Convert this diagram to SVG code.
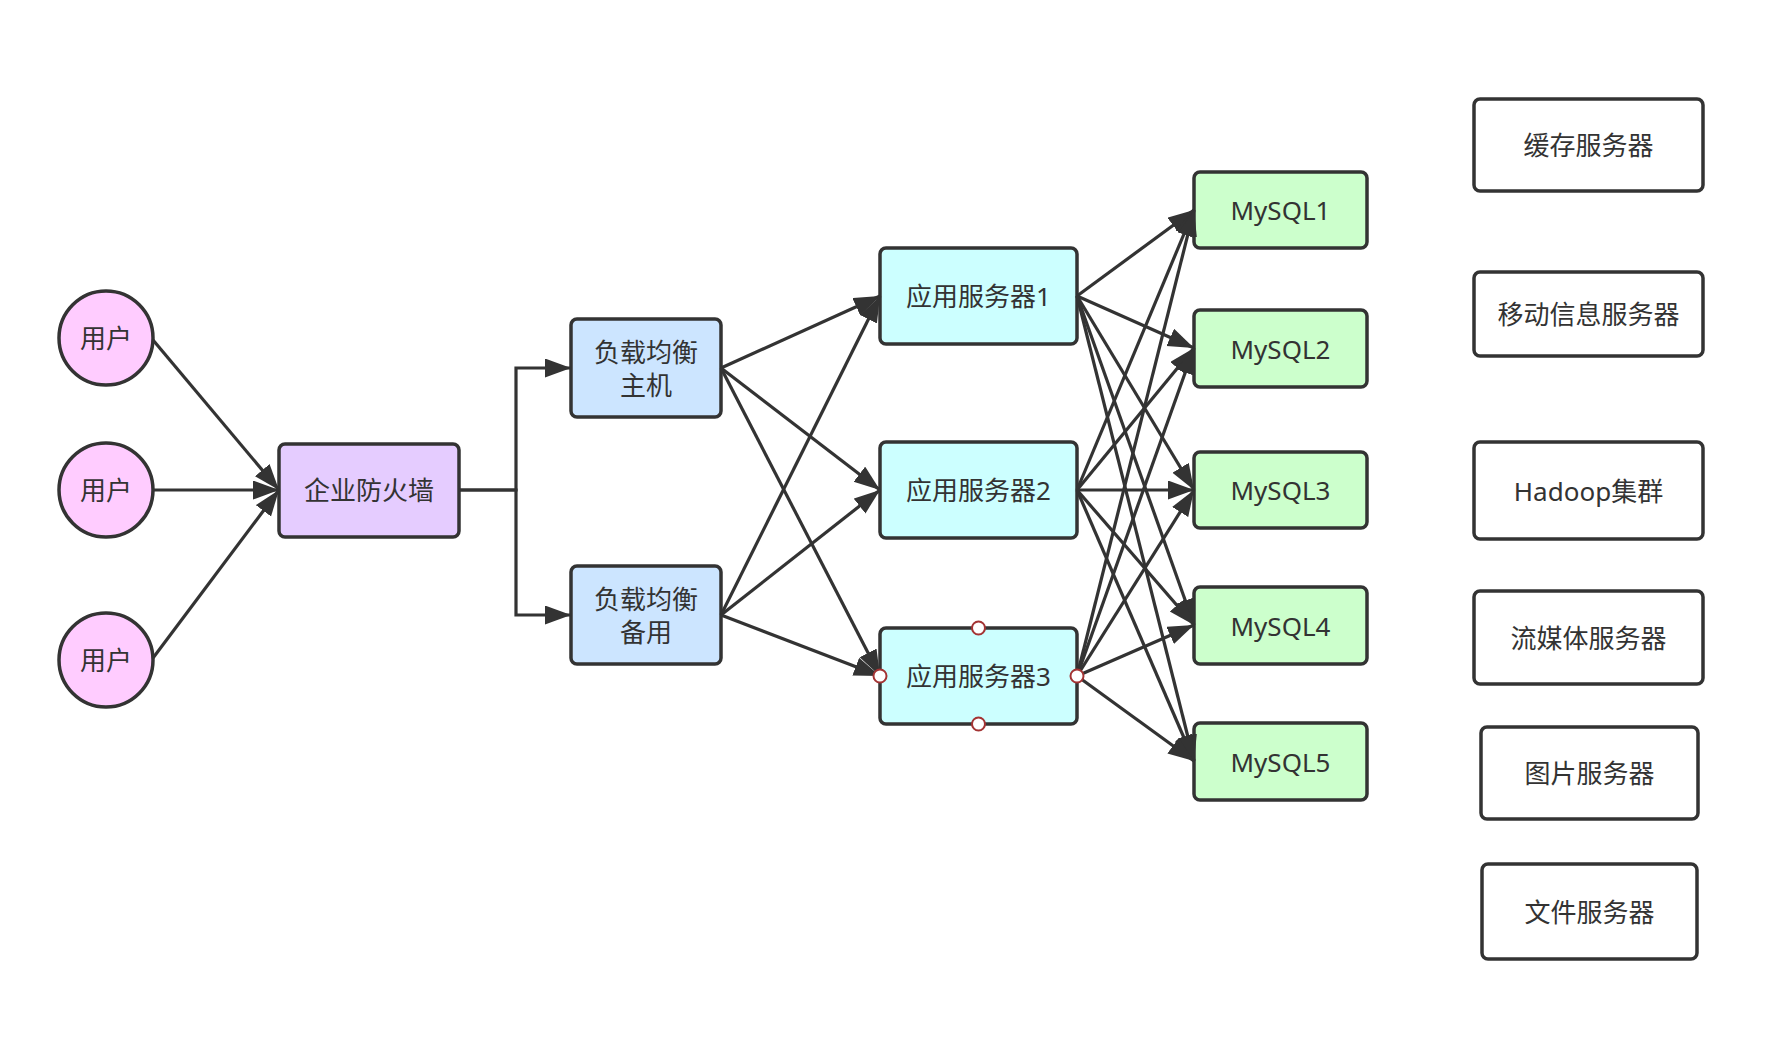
<svg xmlns="http://www.w3.org/2000/svg" width="1785" height="1040" viewBox="0 0 1785 1040">
<style>
  .n { stroke: #333333; stroke-width: 3.5; }
  .user { fill: #FFCCFF; }
  .fw { fill: #E5CCFF; }
  .lb { fill: #CCE5FF; }
  .as { fill: #CCFFFF; }
  .db { fill: #CCFFCC; }
  .plain { fill: #FFFFFF; }
  text { font-family: "Noto Sans", "Noto Sans CJK SC", sans-serif; font-size: 26px; fill: #333333; text-anchor: middle; dominant-baseline: central; }
  .e { fill: none; stroke: #333333; stroke-width: 3.2; marker-end: url(#arr); }
  .h { fill: #FFFFFF; stroke: #A33333; stroke-width: 2; }
</style>
<defs>
  <marker id="arr" markerUnits="userSpaceOnUse" markerWidth="28" markerHeight="20" refX="26" refY="9.5" orient="auto">
    <path d="M0,0 L26,9.5 L0,19 z" fill="#333333"/>
  </marker>
</defs>
<rect width="1785" height="1040" fill="#FFFFFF"/>

<g id="user1"><circle class="n user" cx="106" cy="338" r="47"/><text x="106" y="338">用户</text></g>
<g id="user2"><circle class="n user" cx="106" cy="490" r="47"/><text x="106" y="490">用户</text></g>
<g id="user3"><circle class="n user" cx="106" cy="660" r="47"/><text x="106" y="660">用户</text></g>

<g id="firewall"><rect class="n fw" x="279" y="444" width="180" height="93" rx="6"/><text x="369" y="490">企业防火墙</text></g>

<g id="lb1"><rect class="n lb" x="571" y="319" width="150" height="98" rx="6"/><text x="646" y="352">负载均衡</text><text x="646" y="385">主机</text></g>
<g id="lb2"><rect class="n lb" x="571" y="566" width="150" height="98" rx="6"/><text x="646" y="599">负载均衡</text><text x="646" y="632">备用</text></g>

<g id="as1"><rect class="n as" x="880" y="248" width="197" height="96" rx="6"/><text x="978.5" y="296">应用服务器1</text></g>
<g id="as2"><rect class="n as" x="880" y="442" width="197" height="96" rx="6"/><text x="978.5" y="490">应用服务器2</text></g>
<g id="as3"><rect class="n as" x="880" y="628" width="197" height="96" rx="6"/><text x="978.5" y="676">应用服务器3</text></g>

<g id="mysql1"><rect class="n db" x="1194" y="172" width="173" height="76" rx="6"/><text x="1280.5" y="210">MySQL1</text></g>
<g id="mysql2"><rect class="n db" x="1194" y="310" width="173" height="77" rx="6"/><text x="1280.5" y="348.5">MySQL2</text></g>
<g id="mysql3"><rect class="n db" x="1194" y="452" width="173" height="76" rx="6"/><text x="1280.5" y="490">MySQL3</text></g>
<g id="mysql4"><rect class="n db" x="1194" y="587" width="173" height="77" rx="6"/><text x="1280.5" y="625.5">MySQL4</text></g>
<g id="mysql5"><rect class="n db" x="1194" y="723" width="173" height="77" rx="6"/><text x="1280.5" y="761.5">MySQL5</text></g>

<g id="cache"><rect class="n plain" x="1474" y="99" width="229" height="92" rx="6"/><text x="1588.5" y="145">缓存服务器</text></g>
<g id="mobile"><rect class="n plain" x="1474" y="272" width="229" height="84" rx="6"/><text x="1588.5" y="314">移动信息服务器</text></g>
<g id="hadoop"><rect class="n plain" x="1474" y="442" width="229" height="97" rx="6"/><text x="1588.5" y="490.5">Hadoop集群</text></g>
<g id="stream"><rect class="n plain" x="1474" y="591" width="229" height="93" rx="6"/><text x="1588.5" y="637.5">流媒体服务器</text></g>
<g id="image"><rect class="n plain" x="1481" y="727" width="217" height="92" rx="6"/><text x="1589.5" y="773">图片服务器</text></g>
<g id="file"><rect class="n plain" x="1482" y="864" width="215" height="95" rx="6"/><text x="1589.5" y="911.5">文件服务器</text></g>

<g id="connectors">
  <line class="e" x1="153" y1="340" x2="279" y2="490"/>
  <line class="e" x1="153" y1="490" x2="279" y2="490"/>
  <line class="e" x1="153" y1="658" x2="279" y2="490"/>
  <path class="e" d="M459,490 H516 V368 H571"/>
  <path class="e" d="M459,490 H516 V615 H571"/>
  <line class="e" x1="721" y1="368" x2="880" y2="296"/>
  <line class="e" x1="721" y1="368" x2="880" y2="490"/>
  <line class="e" x1="721" y1="368" x2="880" y2="676"/>
  <line class="e" x1="721" y1="615" x2="880" y2="296"/>
  <line class="e" x1="721" y1="615" x2="880" y2="490"/>
  <line class="e" x1="721" y1="615" x2="880" y2="676"/>
  <line class="e" x1="1077" y1="296" x2="1194" y2="210"/>
  <line class="e" x1="1077" y1="296" x2="1194" y2="348"/>
  <line class="e" x1="1077" y1="296" x2="1194" y2="490"/>
  <line class="e" x1="1077" y1="296" x2="1194" y2="625"/>
  <line class="e" x1="1077" y1="296" x2="1194" y2="761"/>
  <line class="e" x1="1077" y1="490" x2="1194" y2="210"/>
  <line class="e" x1="1077" y1="490" x2="1194" y2="348"/>
  <line class="e" x1="1077" y1="490" x2="1194" y2="490"/>
  <line class="e" x1="1077" y1="490" x2="1194" y2="625"/>
  <line class="e" x1="1077" y1="490" x2="1194" y2="761"/>
  <line class="e" x1="1077" y1="676" x2="1194" y2="210"/>
  <line class="e" x1="1077" y1="676" x2="1194" y2="348"/>
  <line class="e" x1="1077" y1="676" x2="1194" y2="490"/>
  <line class="e" x1="1077" y1="676" x2="1194" y2="625"/>
  <line class="e" x1="1077" y1="676" x2="1194" y2="761"/>
</g>

<g id="handles">
  <circle class="h" cx="978.5" cy="628" r="6.5"/>
  <circle class="h" cx="978.5" cy="724" r="6.5"/>
  <circle class="h" cx="880" cy="676" r="6.5"/>
  <circle class="h" cx="1077" cy="676" r="6.5"/>
</g>
</svg>
